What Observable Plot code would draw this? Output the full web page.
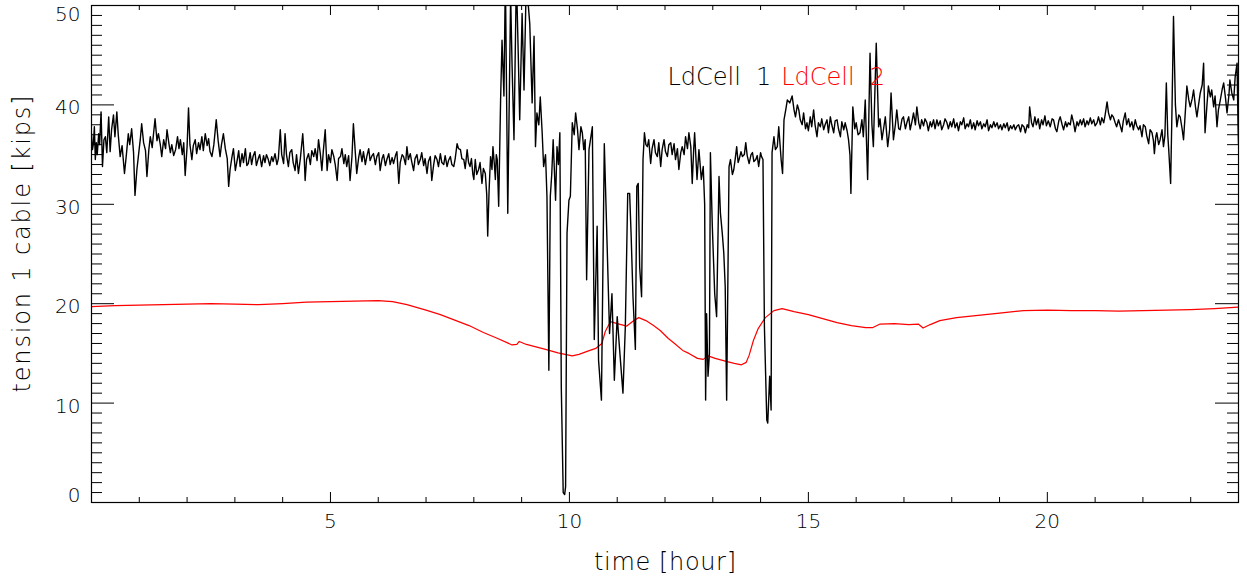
<!DOCTYPE html>
<html>
<head>
<meta charset="utf-8">
<script src="https://cdn.jsdelivr.net/npm/d3@7"></script>
<script src="https://cdn.jsdelivr.net/npm/@observablehq/plot@0.6"></script>
<style>
  html, body { margin: 0; padding: 0; background: #fff; }
  #chart svg { display: block; }
</style>
</head>
<body>
<div id="chart"></div>
<script>
// ---------- data ----------
const xTickLabels = [5, 10, 15, 20];
const yTickLabels = [0, 10, 20, 30, 40, 50];
const seriesNames = ["LdCell\u00a0\u00a01", "LdCell\u00a0\u00a02"];
const seriesColors = ["#000000", "#ff0000"];
const xTitle = "time [hour]";
const yTitle = "tension 1 cable [kips]";

// LdCell 1: [hour, kips]
const ldCell1 = [
[0,37.1],[0.02,35.5],[0.04,36.1],[0.06,37.8],[0.08,34.5],[0.1,36.2],[0.12,35.0],[0.15,37.1],[0.17,36.0],[0.2,39.3],[0.23,33.8],[0.26,36.5],[0.29,36.8],[0.32,35.2],[0.36,38.8],[0.39,35.3],[0.42,37.5],[0.46,39.0],[0.49,36.8],[0.53,39.3],[0.56,37.0],[0.6,34.8],[0.64,35.9],[0.69,33.1],[0.73,35.0],[0.77,37.1],[0.8,36.0],[0.84,37.6],[0.88,35.2],[0.91,30.9],[0.95,33.5],[0.98,34.8],[1.02,36.5],[1.05,38.1],[1.09,36.2],[1.13,35.4],[1.16,32.8],[1.2,35.5],[1.23,36.8],[1.27,35.7],[1.3,37.2],[1.33,38.6],[1.37,36.4],[1.4,37.1],[1.44,36.0],[1.47,34.8],[1.51,36.5],[1.55,35.6],[1.58,37.5],[1.62,36.1],[1.65,35.2],[1.68,36.0],[1.72,34.9],[1.76,35.5],[1.8,36.8],[1.83,35.6],[1.86,36.5],[1.9,35.0],[1.93,36.2],[1.96,32.9],[2.0,35.8],[2.03,39.7],[2.06,36.0],[2.1,34.5],[2.13,35.9],[2.17,36.5],[2.2,35.1],[2.24,36.2],[2.27,35.5],[2.31,36.8],[2.34,35.4],[2.38,37.1],[2.42,35.9],[2.45,36.6],[2.48,35.3],[2.52,34.8],[2.56,36.0],[2.61,38.5],[2.65,36.4],[2.69,34.8],[2.72,36.0],[2.76,37.1],[2.8,35.6],[2.84,34.6],[2.87,31.8],[2.9,33.5],[2.94,34.8],[2.97,35.6],[3.01,33.4],[3.05,34.5],[3.08,35.4],[3.11,33.8],[3.15,35.1],[3.18,34.2],[3.22,35.6],[3.25,33.9],[3.28,34.1],[3.32,35.2],[3.35,34.0],[3.38,34.8],[3.42,35.3],[3.45,33.9],[3.49,34.6],[3.52,35.0],[3.56,33.8],[3.6,34.9],[3.63,34.2],[3.66,35.0],[3.7,34.5],[3.73,33.9],[3.77,34.8],[3.8,34.3],[3.84,35.1],[3.88,34.0],[3.91,34.6],[3.95,37.5],[3.98,35.0],[4.02,34.1],
[4.05,37.1],[4.08,35.0],[4.12,33.8],[4.15,35.2],[4.19,35.5],[4.22,34.2],[4.26,33.4],[4.29,35.0],[4.33,33.1],[4.37,34.6],[4.42,37.1],[4.45,34.8],[4.47,32.4],[4.5,34.5],[4.54,35.1],[4.58,34.0],[4.61,35.4],[4.65,34.8],[4.68,35.6],[4.72,34.4],[4.75,36.5],[4.79,35.0],[4.82,33.4],[4.85,35.3],[4.89,37.5],[4.93,33.4],[4.96,35.0],[5.0,34.2],[5.03,35.5],[5.07,34.8],[5.1,34.0],[5.14,32.4],[5.17,34.6],[5.21,34.8],[5.24,35.6],[5.28,34.1],[5.31,35.0],[5.34,33.8],[5.38,34.9],[5.41,32.4],[5.45,34.8],[5.48,38.1],[5.52,35.2],[5.55,33.1],[5.59,34.7],[5.62,35.5],[5.66,34.3],[5.69,35.3],[5.73,34.0],[5.76,34.8],[5.8,35.6],[5.83,34.4],[5.87,34.9],[5.9,35.1],[5.94,34.0],[5.97,34.8],[6.01,35.2],[6.04,33.4],[6.08,34.6],[6.11,35.0],[6.15,33.9],[6.18,34.5],[6.22,35.1],[6.25,34.0],[6.29,34.7],[6.32,34.1],[6.36,34.9],[6.39,35.3],[6.43,32.1],[6.46,34.2],[6.5,35.0],[6.53,34.8],[6.57,34.0],[6.6,35.8],[6.63,34.5],[6.67,35.1],[6.7,34.3],[6.74,33.4],[6.77,34.6],[6.81,35.0],[6.84,34.0],[6.88,34.5],[6.91,35.2],[6.95,33.9],[6.98,34.6],[7.02,33.1],[7.05,34.3],[7.09,34.8],[7.12,32.4],[7.16,34.0],[7.19,34.9],[7.23,34.5],[7.26,33.8],[7.3,35.1],[7.33,34.2],[7.37,34.0],[7.4,34.9],[7.44,33.8],[7.47,34.4],[7.51,34.8],[7.54,34.0],[7.58,33.8],[7.61,34.6],[7.65,36.1],[7.68,35.6],[7.72,35.5],[7.75,34.6],[7.79,34.5],[7.82,33.6],[7.86,35.5],[7.89,34.2],[7.92,33.8],[7.95,34.6],[7.98,33.0],[8.0,32.5],[8.03,34.5],
[8.06,33.0],[8.1,33.5],[8.13,34.2],[8.17,32.1],[8.2,33.6],[8.24,33.1],[8.27,31.0],[8.29,26.8],[8.32,31.5],[8.35,34.8],[8.38,33.5],[8.4,35.8],[8.43,34.0],[8.45,32.5],[8.47,35.0],[8.49,34.5],[8.52,29.8],[8.56,40.5],[8.59,46.5],[8.63,40.9],[8.66,53],[8.71,29.1],[8.74,40],[8.77,51],[8.8,44],[8.84,36.5],[8.89,53],[8.93,45],[8.96,38.5],[9.01,49.2],[9.05,41.5],[9.1,53],[9.14,50],[9.17,48.2],[9.22,40.2],[9.26,46.9],[9.29,35.8],[9.32,39.2],[9.36,38.0],[9.39,40.8],[9.43,37.2],[9.46,33.8],[9.5,35.0],[9.53,30.8],[9.57,13.3],[9.6,30.8],[9.63,33.0],[9.66,36.5],[9.71,30.4],[9.74,35.8],[9.77,34.0],[9.8,37.2],[9.83,11.6],[9.87,1.0],[9.9,0.8],[9.92,1.6],[9.95,27.1],[9.99,30.4],[10.02,30.8],[10.06,38.2],[10.1,37.0],[10.13,39.2],[10.17,37.5],[10.2,35.5],[10.24,37.8],[10.27,37.2],[10.3,35.5],[10.33,36.5],[10.36,22.4],[10.41,35.5],[10.45,36.8],[10.48,37.8],[10.52,16.4],[10.55,22.0],[10.58,27.8],[10.61,14.3],[10.67,10.3],[10.73,36.1],[10.79,25.7],[10.84,17.0],[10.89,21.0],[10.94,12.3],[11.0,18.7],[11.05,15.4],[11.12,11.0],[11.17,17.7],[11.22,31.1],[11.26,31.1],[11.29,27.1],[11.33,20.7],[11.38,15.4],[11.41,31.8],[11.44,32.1],[11.47,23.7],[11.51,20.7],[11.54,34.5],[11.57,37.2],
[11.6,36.0],[11.63,35.8],[11.66,36.5],[11.7,34.1],[11.73,35.6],[11.77,36.5],[11.8,35.2],[11.84,34.8],[11.87,36.2],[11.91,33.8],[11.94,35.5],[11.98,36.5],[12.01,35.3],[12.05,34.8],[12.08,36.0],[12.12,36.2],[12.15,35.0],[12.19,36.1],[12.22,34.5],[12.26,35.6],[12.29,33.5],[12.33,35.2],[12.36,35.8],[12.4,35.0],[12.43,36.8],[12.47,35.6],[12.5,37.2],[12.54,35.8],[12.57,32.1],[12.6,35.5],[12.62,37.2],[12.67,32.5],[12.71,35.5],[12.76,32.5],[12.8,33.8],[12.83,30.0],[12.85,10.3],[12.87,19.0],[12.9,12.7],[12.93,15.0],[12.95,35.2],[12.99,27.8],[13.04,21.0],[13.08,18.7],[13.13,32.8],[13.16,29.1],[13.2,27.0],[13.23,25.1],[13.26,21.7],[13.29,10.3],[13.32,24.4],[13.34,33.8],[13.37,34.5],[13.41,33.0],[13.44,33.5],[13.47,34.6],[13.5,35.8],[13.53,34.2],[13.55,34.5],[13.59,35.3],[13.62,34.8],[13.66,35.0],[13.69,36.2],[13.72,34.9],[13.76,34.1],[13.8,35.0],[13.83,35.2],[13.86,34.3],[13.9,34.5],[13.93,34.9],[13.96,33.8],[14.0,35.2],[14.02,34.8],[14.05,34.5],[14.08,17.7],[14.13,8.3],[14.15,8.0],[14.19,12.7],[14.22,9.3],[14.24,35.2],[14.28,36.8],[14.31,35.5],[14.35,35.8],[14.38,37.8],[14.43,34.5],[14.46,33.1],[14.49,38.5],[14.53,39.6],[14.56,40.5],[14.61,40.2],[14.66,40.9],[14.7,39.5],[14.73,38.8],[14.77,40.0],[14.8,39.5],[14.83,38.5],[14.87,38.0],[14.9,39.2],[14.94,37.6],[14.97,38.2],[15.0,37.4],[15.04,38.8],[15.07,37.8],[15.11,39.5],[15.14,38.0],[15.18,36.8],[15.21,38.2],[15.25,37.8],[15.28,38.6],[15.32,37.5],[15.35,38.0],[15.39,38.5],[15.42,37.2],[15.46,38.8],[15.49,38.0],[15.53,37.2],[15.56,38.4],[15.6,38.5],[15.63,37.6],[15.67,36.8],[15.7,38.3],[15.74,37.5],[15.77,38.2],[15.81,37.4],[15.84,36.5],[15.87,35.0],[15.89,31.1],[15.93,39.8],[15.97,37.6],[16.0,38.2],[16.04,37.0],[16.08,37.2],[16.12,38.5],[16.15,36.8],[16.19,40.5],[16.24,32.5],[16.29,45.2],[16.33,38.0],[16.36,35.8],[16.42,46.2],[16.47,37.8],[16.5,38.6],[16.54,36.5],[16.58,37.8],[16.61,38.8],[16.66,35.8],[16.7,37.5],[16.73,41.2],[16.78,36.5],[16.82,38.0],[16.85,39.5],[16.89,37.6],[16.92,37.5],[16.96,38.6],[16.99,38.8],
[17.03,37.6],[17.06,38.2],[17.1,38.8],[17.13,37.5],[17.17,38.4],[17.2,39.2],[17.24,38.0],[17.27,39.8],[17.31,38.2],[17.34,37.6],[17.37,38.5],[17.41,37.9],[17.44,38.6],[17.48,38.2],[17.51,37.4],[17.55,38.3],[17.58,37.8],[17.62,38.5],[17.65,37.6],[17.69,38.5],[17.72,37.9],[17.76,38.4],[17.79,37.5],[17.83,38.0],[17.86,38.6],[17.9,38.2],[17.93,37.6],[17.97,38.3],[18.0,37.8],[18.04,38.6],[18.07,37.7],[18.11,38.2],[18.14,37.4],[18.18,38.3],[18.21,38.0],[18.25,38.7],[18.28,37.6],[18.32,38.1],[18.35,37.8],[18.39,38.5],[18.42,37.6],[18.46,38.2],[18.49,37.5],[18.53,38.4],[18.56,37.9],[18.6,38.3],[18.63,37.6],[18.67,38.1],[18.7,37.8],[18.74,38.5],[18.77,37.4],[18.81,38.0],[18.84,37.7],[18.88,38.3],[18.91,37.8],[18.95,38.2],[18.98,37.6],[19.02,38.0],[19.05,37.5],[19.09,38.1],[19.12,37.7],[19.16,38.2],[19.19,37.4],[19.23,37.9],[19.26,37.6],[19.3,38.0],[19.33,37.5],[19.37,37.9],[19.4,38.0],[19.44,37.3],[19.47,38.0],[19.51,37.8],[19.54,37.2],[19.58,38.0],[19.61,37.7],[19.63,39.8],[19.67,38.2],[19.7,37.8],[19.74,38.8],[19.77,38.0],[19.81,38.6],[19.84,37.6],[19.88,38.5],[19.91,38.0],[19.95,38.9],[19.98,37.9],[20.02,38.4],[20.06,37.8],[20.1,38.6],[20.13,38.5],[20.17,37.6],[20.2,37.3],[20.24,38.4],[20.27,38.8],[20.31,38.0],[20.34,37.5],[20.38,38.3],[20.41,37.8],[20.44,38.2],[20.48,38.0],[20.51,39.0],[20.55,38.2],[20.58,37.3],[20.62,38.3],[20.65,37.9],[20.69,38.5],[20.72,38.0],[20.76,38.6],[20.79,37.8],[20.83,38.4],[20.86,38.0],[20.9,38.7],[20.93,38.1],[20.97,38.5],[21.0,37.9],[21.04,38.2],[21.07,38.8],[21.11,38.0],[21.14,38.7],[21.18,38.2],[21.21,39.0],[21.25,40.3],[21.28,39.2],[21.32,38.5],[21.35,39.0],[21.38,38.8],[21.42,38.2],[21.45,37.8],[21.49,38.5],[21.52,38.0],[21.56,37.3],[21.59,38.4],[21.63,39.2],[21.66,38.0],[21.7,38.6],[21.73,37.8],[21.77,38.3],[21.8,37.5],[21.84,38.5],[21.87,37.9],[21.91,37.5],[21.94,37.9],[21.98,36.8],[22.01,38.0],[22.05,37.8],[22.08,36.9],[22.12,36.1],[22.15,37.5],[22.19,37.2],[22.22,36.4],[22.24,35.1],[22.27,36.8],[22.29,37.2],[22.33,36.0],[22.36,36.5],[22.4,37.5],[22.43,35.8],[22.46,36.9],[22.49,42.2],[22.52,37.0],[22.54,35.5],[22.58,32.1],[22.61,40.0],[22.64,48.9],[22.68,40.0],[22.71,37.8],[22.75,39.0],[22.78,38.8],[22.82,37.6],[22.85,36.5],[22.89,39.5],[22.92,41.9],[22.96,40.5],[22.99,39.8],[23.03,40.6],[23.06,41.5],[23.1,39.8],[23.13,38.8],[23.17,40.2],[23.2,41.2],[23.24,42.0],[23.27,44.2],[23.3,37.2],[23.34,40.0],[23.37,41.9],[23.41,40.8],[23.44,41.5],[23.48,39.8],[23.51,40.9],[23.55,37.8],[23.58,39.5],[23.62,40.5],[23.66,41.6],[23.69,42.2],[23.73,40.6],[23.76,39.2],[23.8,41.0],[23.82,42.5],[23.86,41.2],[23.9,40.5],[23.93,42.8],[23.97,44.2],[23.99,38.0],[24.0,36.1]
];

// LdCell 2: [hour, kips]
const ldCell2 = [
[0,19.7],[0.5,19.8],[1,19.85],[1.5,19.9],[2,19.95],[2.5,20.0],[3,19.95],[3.5,19.9],[4,20.0],[4.5,20.15],[5,20.2],[5.5,20.25],[6,20.3],[6.3,20.2],[6.6,19.9],[7,19.35],[7.3,18.9],[7.6,18.35],[7.9,17.8],[8.2,17.1],[8.5,16.5],[8.8,15.85],[8.9,15.9],[8.95,16.2],[9.1,15.9],[9.3,15.65],[9.5,15.4],[9.76,15.05],[10.06,14.75],[10.2,14.9],[10.37,15.2],[10.55,15.5],[10.68,16.0],[10.75,17.2],[10.86,18.2],[11.0,18.0],[11.2,17.75],[11.35,18.3],[11.45,18.6],[11.6,18.3],[11.76,17.8],[11.9,17.3],[12.07,16.5],[12.2,16.0],[12.37,15.3],[12.5,15.0],[12.68,14.5],[12.8,14.4],[12.9,14.75],[13.05,14.5],[13.28,14.2],[13.45,14.0],[13.6,13.85],[13.7,14.1],[13.76,14.8],[13.85,16.3],[13.95,17.5],[14.1,18.6],[14.28,19.3],[14.45,19.5],[14.7,19.2],[15.0,18.9],[15.3,18.5],[15.6,18.1],[15.9,17.8],[16.2,17.6],[16.35,17.6],[16.5,17.95],[16.8,18.0],[17.1,17.9],[17.3,17.95],[17.4,17.55],[17.55,17.9],[17.75,18.3],[18.1,18.6],[18.5,18.8],[19.0,19.05],[19.5,19.3],[20.0,19.35],[20.5,19.3],[21.0,19.3],[21.5,19.25],[22.0,19.3],[22.5,19.35],[23.0,19.4],[23.5,19.5],[24,19.65]
];

// ---------- layout ----------
const W = 1247, H = 583;
const mL = 91, mR = 9, mT = 5, mB = 81;
const fw = W - mL - mR, fh = H - mT - mB;
const font = "'DejaVu Sans', sans-serif";

const xMinor = d3.range(1, 24);
const yMinor = d3.range(1, 50);
const yMajor = yTickLabels;

const chart = Plot.plot({
  width: W, height: H,
  marginLeft: mL, marginRight: mR, marginTop: mT, marginBottom: mB,
  style: {fontFamily: font, background: "#fff", overflow: "visible"},
  x: {domain: [0, 24], axis: null},
  y: {domain: [0, 50], axis: null},
  marks: [
    Plot.line(ldCell2, {x: d => d[0], y: d => d[1], stroke: seriesColors[1], strokeWidth: 1.2, clip: true}),
    Plot.line(ldCell1, {x: d => d[0], y: d => d[1], stroke: seriesColors[0], strokeWidth: 1.4, clip: true}),
    Plot.frame({stroke: "#000", strokeWidth: 1.2}),
    // x ticks bottom/top
    Plot.tickX(xMinor.filter(d => !xTickLabels.includes(d)), {x: d => d, insetTop: fh - 5, stroke: "#000"}),
    Plot.tickX(xMinor.filter(d => !xTickLabels.includes(d)), {x: d => d, insetBottom: fh - 5, stroke: "#000"}),
    Plot.tickX(xTickLabels, {x: d => d, insetTop: fh - 10, stroke: "#000"}),
    Plot.tickX(xTickLabels, {x: d => d, insetBottom: fh - 10, stroke: "#000"}),
    // y ticks left/right
    Plot.tickY(yMinor.filter(d => d % 10 !== 0), {y: d => d, insetRight: fw - 11, stroke: "#000"}),
    Plot.tickY(yMinor.filter(d => d % 10 !== 0), {y: d => d, insetLeft: fw - 11, stroke: "#000"}),
    Plot.tickY(yMajor, {y: d => d, insetRight: fw - 23, stroke: "#000"}),
    Plot.tickY(yMajor, {y: d => d, insetLeft: fw - 23, stroke: "#000"}),
    // y tick labels
    Plot.text(yMajor.filter(d => d > 0 && d < 50), {y: d => d, text: d => String(d), frameAnchor: "left", textAnchor: "end", dx: -11, dy: 3, fontSize: 20, fontWeight: 200, fill: "#000"}),
    Plot.text([0], {y: d => d, text: d => String(d), frameAnchor: "left", textAnchor: "end", dx: -11, dy: -7, fontSize: 20, fontWeight: 200, fill: "#000"}),
    Plot.text([50], {y: d => d, text: d => String(d), frameAnchor: "left", textAnchor: "end", dx: -11, dy: 9, fontSize: 20, fontWeight: 200, fill: "#000"}),
    // x tick labels
    Plot.text(xTickLabels, {x: d => d, text: d => String(d), frameAnchor: "bottom", dy: 25, fontSize: 20, fontWeight: 200, fill: "#000"}),
    // axis titles
    Plot.text([xTitle], {text: d => d, frameAnchor: "bottom", textAnchor: "middle", dy: 67, fontSize: 24, fontWeight: 200, fill: "#000"}),
    Plot.text([yTitle], {text: d => d, frameAnchor: "left", textAnchor: "middle", dx: -69, dy: -10, rotate: -90, fontSize: 24, fontWeight: 200, fill: "#000"}),
    // legend
    Plot.text([seriesNames[0]], {x: 12.05, y: 42.8, text: d => d, textAnchor: "start", fontSize: 24, fontWeight: 200, fill: seriesColors[0]}),
    Plot.text([seriesNames[1]], {x: 14.43, y: 42.8, text: d => d, textAnchor: "start", fontSize: 24, fontWeight: 200, fill: seriesColors[1]})
  ]
});

// stretch the axis titles to the reference's wide letter spacing
const targetLengths = new Map([[xTitle, 142], [yTitle, 297]]);
d3.select(chart).selectAll("text").each(function() {
  const t = this.textContent;
  if (targetLengths.has(t)) {
    this.setAttribute("textLength", targetLengths.get(t));
    this.setAttribute("lengthAdjust", "spacing");
  }
});
document.getElementById("chart").appendChild(chart);
</script>
</body>
</html>
